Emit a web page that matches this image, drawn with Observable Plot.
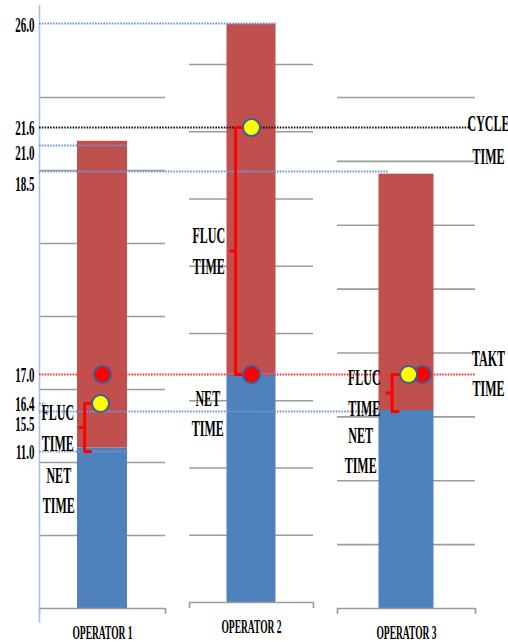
<!DOCTYPE html>
<html><head><meta charset="utf-8">
<script src="https://cdn.jsdelivr.net/npm/d3@7"></script>
<script src="https://cdn.jsdelivr.net/npm/@observablehq/plot@0.6"></script>
<style>
html,body{margin:0;padding:0;background:#fff;}
#chart{position:relative;width:508px;height:642px;overflow:hidden;background:#fff;}
#chart svg{position:absolute;left:0;top:0;}
</style></head><body><div id="chart"></div>
<script>
// ---------- data ----------
const operators = ["OPERATOR 1", "OPERATOR 2", "OPERATOR 3"];
const netTime = [11.0, 17.0, 15.5];        // blue segment
const cycleTime = [21.0, 26.0, 18.5];      // red segment (stacked on top of net in the source chart)
const operatorCycle = [16.4, 21.6, 17.0];  // yellow dots
const taktTime = 17.0;                     // red dots / TAKT TIME line
const lineCycleTime = 21.6;                // CYCLE TIME line
const axisTicks = [11.0, 15.5, 16.4, 17.0, 18.5, 21.0, 21.6, 26.0];
const panelMax = [35, 40, 40];
const gridStep = 5;

// ---------- layout / style ----------
const W = 508, H = 642;
const panels = [
  {left: 39, right: 165, top: 97, bottom: 608, bar: 50},
  {left: 189, right: 313, top: 64, bottom: 602, bar: 49},
  {left: 337, right: 475, top: 97, bottom: 608, bar: 55}
];
const tickRows = [451, 411, 403, 374, 171, 145, 127, 23]; // rows of the hand-placed (non-linear) value axis
const opCols = [102, 251, 405.5];
const u = px => px / 150;            // pixel offset -> operator units
const axisPos = 0.577;
const BLUE = "#4f81bd", RED = "#c0504d", GRID = "#9c9c9c";
const DOT_BLUE = "#7497cf", DOT_BLACK = "#1a1a1a", DOT_RED = "#ff3030";
const refStyle = {
  "26": {to: 2.17, color: DOT_BLUE}, "21.6": {to: 3.42, color: DOT_BLACK},
  "21": {to: 1.17, color: DOT_BLUE}, "18.5": {to: 2.885, color: DOT_BLUE},
  "17": {to: 3.45, color: DOT_RED}, "16.4": {to: 0.62, color: DOT_BLUE},
  "15.5": {to: 2.82, color: DOT_BLUE}, "11": {to: 1.17, color: DOT_BLUE}
};
const labelNudge = {"21": 7, "18.5": 12, "15.5": 12, "26": 1};
const yellowShift = [-2, 0, 2.5], redShift = [0, 0, 16];
const FONT = "Liberation Serif";
const chart = document.getElementById("chart");
const transparent = {background: "transparent", overflow: "visible"};

// ---------- panels (one Excel-like stacked bar chart per operator) ----------
panels.forEach((L, i) => {
  const op = operators[i];
  const rows = [
    {op, series: "net", value: netTime[i]},
    {op, series: "total", value: cycleTime[i]}
  ];
  const w = L.right - L.left;
  const pad = (w - L.bar) / (w + L.bar);
  const pxPerUnit = (L.bottom - L.top) / panelMax[i];
  const svg = Plot.plot({
    width: W, height: H,
    marginLeft: L.left, marginRight: W - L.right, marginTop: L.top, marginBottom: H - L.bottom,
    style: transparent,
    x: {type: "band", domain: [op], padding: pad, round: false, axis: null},
    y: {domain: [0, panelMax[i]], axis: null},
    color: {domain: ["net", "total"], range: [BLUE, RED]},
    marks: [
      Plot.ruleY(d3.range(gridStep, panelMax[i] + 0.001, gridStep), {stroke: GRID, strokeWidth: 1.6}),
      Plot.barY(rows, {x: "op", y: "value", fill: "series"}),
      Plot.ruleY([0], {stroke: GRID, strokeWidth: 1.6}),
      Plot.ruleX([op], {x: d => d, y1: 0, y2: -6 / pxPerUnit, dx: -w / 2, stroke: GRID, strokeWidth: 1.6}),
      Plot.ruleX([op], {x: d => d, y1: 0, y2: -6 / pxPerUnit, dx: w / 2, stroke: GRID, strokeWidth: 1.6}),
      Plot.text([op], {x: d => d, frameAnchor: "bottom", dy: 24, lineAnchor: "middle",
        fontFamily: FONT, fontWeight: "bold", fontSize: 19, fill: "#000"})
    ]
  });
  chart.appendChild(svg);
});

// ---------- overlay (value axis, reference lines, dots, braces, notes) ----------
const ys = d3.scaleLinear(axisTicks, tickRows);   // piecewise value -> row
const xs = d3.scaleLinear([1, 2, 3], opCols);      // piecewise operator -> column
const opIdx = operators.map((d, i) => i + 1);

const refData = axisTicks.map(v => ({value: v, to: refStyle[String(v)].to, color: refStyle[String(v)].color}));

const braces = operators.map((op, i) => {
  const top = operatorCycle[i], bot = netTime[i];
  const mid = ys.invert((ys(top) + ys(bot)) / 2);
  const vx = (i + 1) + u(yellowShift[i] - 16);
  return {op, top, bot, mid, vx, i};
});
const bracePts = braces.flatMap(b => [
  {op: b.op, x: b.vx + u(7), y: b.top}, {op: b.op, x: b.vx, y: b.top},
  {op: b.op, x: b.vx, y: b.mid}, {op: b.op, x: b.vx - u(5), y: b.mid},
  {op: b.op, x: b.vx, y: b.mid}, {op: b.op, x: b.vx, y: b.bot},
  {op: b.op, x: b.vx + u(6), y: b.bot}
]);

const txt = {fontFamily: FONT, fontWeight: "bold", fill: "#000", fontSize: 24, lineAnchor: "middle", textAnchor: "middle"};
// two-line note: one text mark per line (offsets in px)
const note = (data, opts, words, offsets) =>
  words.map((w, j) => Plot.text(data, {...txt, ...opts, text: () => w, dy: offsets[j]}));

const overlay = Plot.plot({
  width: W, height: H,
  marginLeft: 0, marginRight: 0, marginTop: 5, marginBottom: 19,
  style: transparent,
  x: {transform: xs, domain: [0, W], range: [0, W], axis: null},
  y: {transform: ys, domain: [0, H], range: [0, H], axis: null},
  marks: [
    Plot.ruleX([axisPos], {stroke: "#a9c3e6", strokeWidth: 1.6}),
    Plot.ruleY(refData, {y: "value", x1: axisPos, x2: "to", stroke: "color", strokeWidth: 2, strokeDasharray: "1.6 1.2"}),
    ...axisTicks.map(v => Plot.text([v], {...txt, x: axisPos, y: d => d, text: d => d.toFixed(1), textAnchor: "end",
      dx: -5, dy: labelNudge[String(v)] || 0, fontSize: 22})),
    Plot.line(bracePts, {x: "x", y: "y", z: "op", stroke: "#ff0000", strokeWidth: 3, strokeLinejoin: "round", strokeLinecap: "round"}),
    Plot.dot(opIdx, {x: (d, i) => d + u(redShift[i]), y: () => taktTime, r: 8.5, fill: "#ff0000", stroke: "#3f5f92", strokeWidth: 2}),
    Plot.dot(opIdx, {x: (d, i) => d + u(yellowShift[i]), y: (d, i) => operatorCycle[i], r: 8.5, fill: "#ffff00", stroke: "#3f5f92", strokeWidth: 2}),
    ...note(braces, {x: b => b.vx + u(-27), y: "mid"}, ["FLUC", "TIME"], [-15.5, 15.5]),
    ...note(braces, {x: b => b.i + 1 + u(-44), y: b => netTime[b.i]}, ["NET", "TIME"], [24, 54]),
    ...note([lineCycleTime], {y: d => d, frameAnchor: "right", dx: -20}, ["CYCLE", "TIME"], [-4, 29]),
    ...note([taktTime], {y: d => d, frameAnchor: "right", dx: -20}, ["TAKT", "TIME"], [-16, 14])
  ]
});
chart.appendChild(overlay);

// condensed (horizontally squeezed) lettering, as in the source image
function squish(svg, k) {
  svg.querySelectorAll("text").forEach(t => {
    const spans = t.querySelectorAll("tspan");
    const els = spans.length ? Array.from(spans) : [t];
    els.forEach(el => {
      const L = el.getComputedTextLength();
      if (L > 0) {
        el.setAttribute("textLength", (L * k).toFixed(1));
        el.setAttribute("lengthAdjust", "spacingAndGlyphs");
      }
    });
  });
}
chart.querySelectorAll("svg").forEach(s => squish(s, 0.5));
</script></body></html>
